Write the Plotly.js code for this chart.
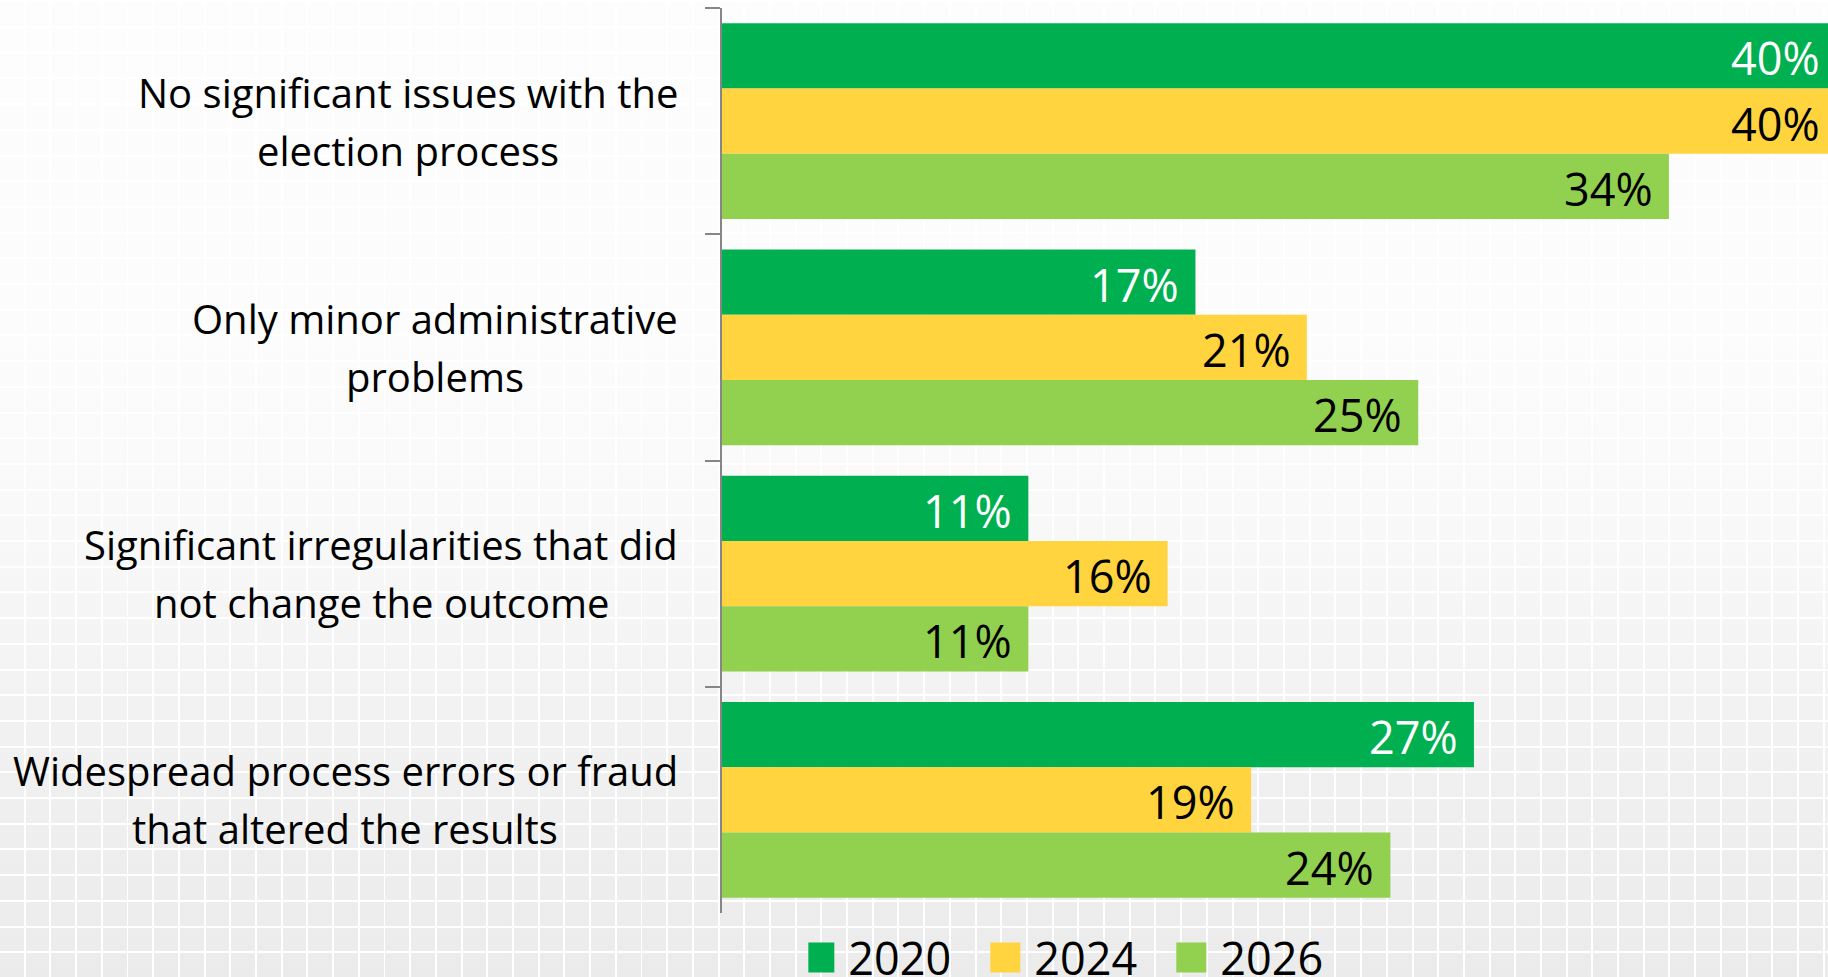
<!DOCTYPE html>
<html>
<head>
<meta charset="utf-8">
<script src="https://cdn.plot.ly/plotly-3.0.1.min.js"></script>
<style>
html, body { margin: 0; padding: 0; width: 1828px; height: 977px; overflow: hidden; }
body {
  background-color: #ffffff;
  background-image:
    repeating-linear-gradient(90deg, rgba(255,255,255,0) 0px, rgba(255,255,255,0) 23.7px, #ffffff 23.7px, #ffffff 25.7px),
    repeating-linear-gradient(0deg, rgba(255,255,255,0) 0px, rgba(255,255,255,0) 23.7px, #ffffff 23.7px, #ffffff 25.7px),
    linear-gradient(to bottom, #fdfdfd 0%, #fcfcfc 35%, #f8f8f8 55%, #f1f1f1 75%, #ebebeb 100%);
}
#chart { width: 1836px; height: 977px; }
#chart .legend .legendpoints path { transform: translate(11px, 0px) scale(2.5) !important; }
</style>
</head>
<body>
<div id="chart"></div>
<script>
const categoryLines = [
  ["No significant issues with the", "election process"],
  ["Only minor administrative", "problems"],
  ["Significant irregularities that did", "not change the outcome"],
  ["Widespread process errors or fraud", "that altered the results"]
];
const categories = categoryLines.map(l => l.join(" "));
const seriesNames = ["2020", "2024", "2026"];
const values2020 = [40, 17, 11, 27];
const values2024 = [40, 21, 16, 19];
const values2026 = [34, 25, 11, 24];
const seriesValues = [values2020, values2024, values2026];
const seriesColors = ["#00B050", "#FFD43F", "#92D050"];
const labelColors = ["#ffffff", "#000000", "#000000"];

const FONT = "'Open Sans', sans-serif";
const CAT_SIZE = 40;
const VAL_SIZE = 45;
const bargap = 0.135;

const traces = seriesNames.map((name, i) => ({
  type: "bar",
  orientation: "h",
  name: name,
  x: seriesValues[i],
  y: categories,
  marker: { color: seriesColors[i], line: { width: 0 } },
  hoverinfo: "skip"
}));

const annotations = [];
const w = (1 - bargap) / seriesNames.length;
seriesValues.forEach((vals, i) => {
  vals.forEach((v, j) => {
    annotations.push({
      x: v, y: j + (i - (seriesNames.length - 1) / 2) * w,
      xref: "x", yref: "y",
      text: v + "%",
      showarrow: false,
      xanchor: "right", yanchor: "middle",
      xshift: -14, yshift: -2,
      font: { family: FONT, size: VAL_SIZE, color: labelColors[i] }
    });
  });
});

const ctx = document.createElement("canvas").getContext("2d");
ctx.font = CAT_SIZE + "px 'Open Sans'";
const LINE_GAP = 29;
categoryLines.forEach((lines, j) => {
  const maxW = Math.max(...lines.map(t => ctx.measureText(t).width));
  lines.forEach((t, k) => {
    annotations.push({
      x: 0, y: j, xref: "paper", yref: "y",
      text: t, showarrow: false,
      xanchor: "center", yanchor: "middle",
      xshift: -(44 + maxW / 2),
      yshift: (k === 0 ? 1 : -1) * LINE_GAP,
      font: { family: FONT, size: CAT_SIZE, color: "#000000" }
    });
  });
});

const layout = {
  width: 1836, height: 977,
  margin: { l: 722, r: 0, t: 8, b: 64, pad: 0, autoexpand: false },
  paper_bgcolor: "rgba(0,0,0,0)",
  plot_bgcolor: "rgba(0,0,0,0)",
  barmode: "group",
  bargap: bargap,
  bargroupgap: 0,
  showlegend: true,
  legend: {
    orientation: "h",
    x: 0.0775, y: -0.0097, xanchor: "left", yanchor: "top",
    font: { family: FONT, size: VAL_SIZE, color: "#000000" },
    bgcolor: "rgba(0,0,0,0)",
    borderwidth: 0,
    entrywidth: 141,
    traceorder: "normal"
  },
  xaxis: { range: [0, 40], visible: false, fixedrange: true },
  yaxis: {
    type: "category",
    autorange: "reversed",
    showline: true, linecolor: "#868686", linewidth: 2,
    ticks: "outside", ticklen: 15, tickwidth: 2, tickcolor: "#868686",
    tickson: "boundaries",
    showticklabels: false, showgrid: false, zeroline: false,
    fixedrange: true
  },
  annotations: annotations
};

Plotly.newPlot("chart", traces, layout, { displayModeBar: false, staticPlot: true });
</script>
</body>
</html>
